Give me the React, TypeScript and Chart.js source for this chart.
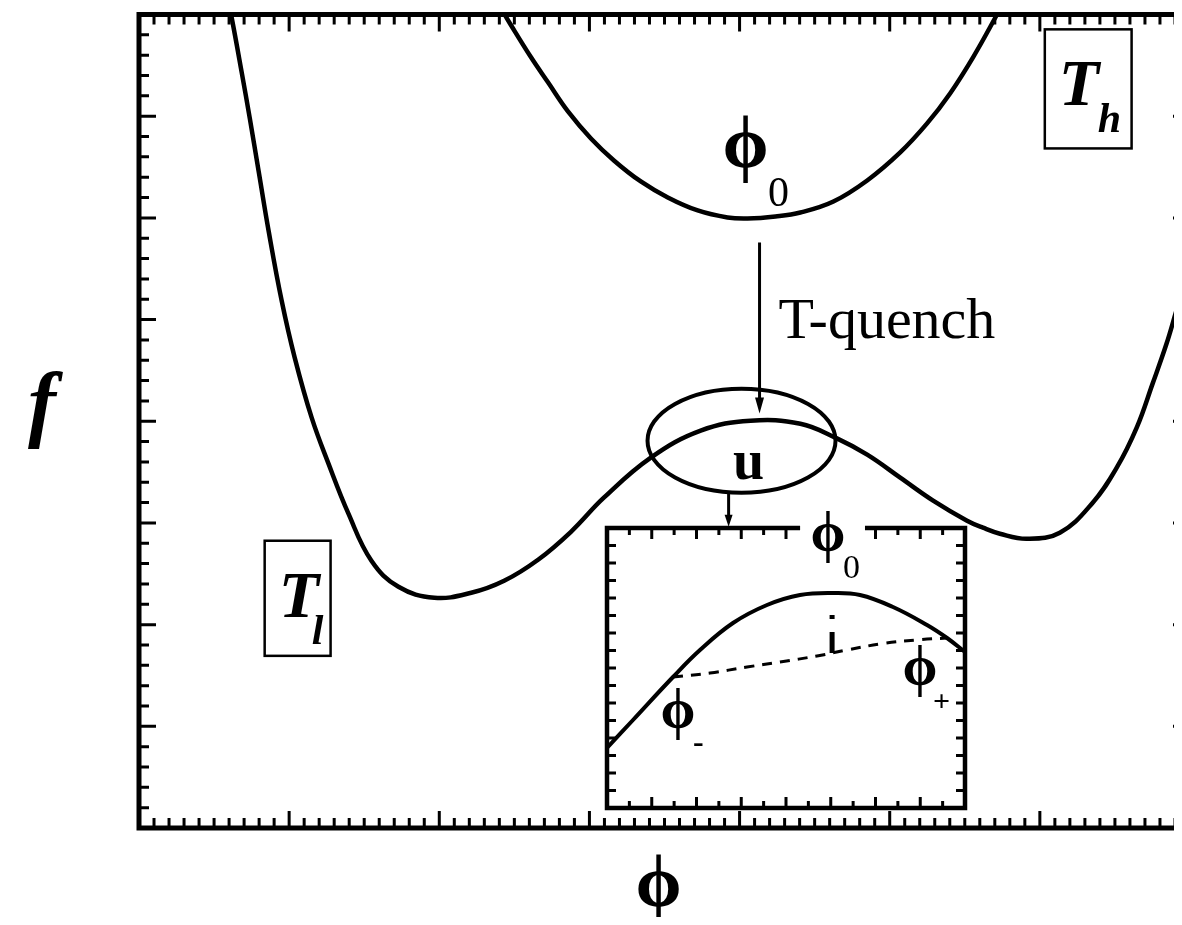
import { useEffect, useRef } from "react";
import { Chart, registerables } from "chart.js";

Chart.register(...registerables);

// ---- Free energy f(ϕ), high temperature T_h (single well around ϕ0) ----
const phiHigh = [2.419, 2.478, 2.611, 2.724, 2.857, 3.01, 3.163, 3.342, 3.522, 3.721, 3.92, 4.053, 4.239, 4.405, 4.625, 4.85, 5.07, 5.249, 5.402, 5.555, 5.701, 5.734];
const fHigh = [8.041, 7.894, 7.579, 7.333, 7.047, 6.781, 6.565, 6.358, 6.201, 6.073, 6.004, 5.994, 6.014, 6.053, 6.161, 6.368, 6.644, 6.929, 7.224, 7.579, 7.963, 8.061];

// ---- Free energy f(ϕ), low temperature T_l (double well, barrier u at ϕ0) ----
const phiLow = [0.598, 0.618, 0.684, 0.738, 0.797, 0.864, 0.95, 1.037, 1.15, 1.262, 1.395, 1.548, 1.728, 1.967, 2.213, 2.432, 2.658, 2.877, 3.096, 3.409, 3.741, 4.073, 4.405, 4.638, 4.85, 5.07, 5.289, 5.515, 5.621, 5.734, 5.914, 6.133, 6.352, 6.512, 6.645, 6.751, 6.844, 6.91, 6.997];
const fLow = [8.09, 7.963, 7.431, 6.978, 6.457, 5.866, 5.187, 4.626, 4.035, 3.583, 3.091, 2.628, 2.372, 2.264, 2.313, 2.431, 2.638, 2.913, 3.248, 3.642, 3.907, 4.006, 3.976, 3.839, 3.671, 3.445, 3.219, 3.022, 2.953, 2.894, 2.844, 2.904, 3.199, 3.543, 3.937, 4.37, 4.764, 5.089, 5.502];

// ---- Inset: magnified barrier top near ϕ0 ----
const insetPhi = [0, 1.162, 2.95, 4.156, 5.631, 7.151, 8.626, 10.101, 11.307, 12.782, 14.302, 15.196, 16.0];
const insetF = [3.43, 5.029, 7.486, 9.029, 10.571, 11.6, 12.171, 12.286, 12.171, 11.486, 10.457, 9.714, 8.914];

// chord between ϕ- and ϕ+
const chordPhi = [2.95, 4.603, 6.257, 7.732, 9.385, 10.726, 12.335, 13.989, 15.196];
const chordF = [7.486, 7.714, 8.057, 8.343, 8.686, 9.029, 9.4, 9.62, 9.714];

// vertical gap between the curve and the chord at ϕ0
const gapPhi = [10.06, 10.06];
const gapF = [11.03, 8.86];

const SERIF = '"Liberation Serif", "Times New Roman", serif';
const PHI = "\u03D5";

const pts = (xs: number[], ys: number[]) => xs.map((x, i) => ({ x, y: ys[i] }));

function arrowDown(ctx: CanvasRenderingContext2D, x: number, y0: number, y1: number, head: number, half: number) {
  ctx.beginPath();
  ctx.moveTo(x, y0);
  ctx.lineTo(x, y1 - head + 2);
  ctx.stroke();
  ctx.beginPath();
  ctx.moveTo(x, y1);
  ctx.lineTo(x - half, y1 - head);
  ctx.lineTo(x + half, y1 - head);
  ctx.closePath();
  ctx.fill();
}

const mainDecor = {
  id: "mainDecor",
  afterDatasetsDraw(chart: any) {
    const { ctx, chartArea: a, scales } = chart;
    const X = (v: number) => scales.x.getPixelForValue(v);
    const Y = (v: number) => scales.y.getPixelForValue(v);
    ctx.save();
    ctx.strokeStyle = "#000";
    ctx.fillStyle = "#000";

    // frame
    ctx.lineWidth = 5;
    ctx.strokeRect(a.left, a.top, a.right - a.left, a.bottom - a.top);

    // inward ticks: x every 0.1 (major 1), y every 0.2 (major 1)
    ctx.lineWidth = 3;
    ctx.beginPath();
    for (let i = 1; i < 70; i++) {
      const px = X(i / 10);
      const len = i % 10 === 0 ? 17 : 10;
      ctx.moveTo(px, a.bottom);
      ctx.lineTo(px, a.bottom - len);
      ctx.moveTo(px, a.top);
      ctx.lineTo(px, a.top + len);
    }
    for (let i = 1; i < 40; i++) {
      const py = Y(i / 5);
      const len = i % 5 === 0 ? 17 : 10;
      ctx.moveTo(a.left, py);
      ctx.lineTo(a.left + len, py);
      ctx.moveTo(a.right, py);
      ctx.lineTo(a.right - len, py);
    }
    ctx.stroke();

    // axis titles
    ctx.textAlign = "center";
    ctx.textBaseline = "alphabetic";
    ctx.font = `bold 74px ${SERIF}`;
    ctx.fillText(PHI, X(3.46), a.bottom + 78);
    ctx.font = `italic bold 84px ${SERIF}`;
    ctx.fillText("f", 34, Y(3.9));

    // ϕ0 at the T_h minimum
    ctx.font = `bold 74px ${SERIF}`;
    ctx.fillText(PHI, X(4.04), Y(6.5));
    ctx.textAlign = "left";
    ctx.font = `42px ${SERIF}`;
    ctx.fillText("0", X(4.19), Y(6.12));

    // temperature quench arrow
    ctx.lineWidth = 3;
    arrowDown(ctx, X(4.133), Y(5.758), Y(4.075), 16, 4.5);
    ctx.font = `58px ${SERIF}`;
    ctx.fillText("T-quench", X(4.259), Y(4.823));

    // ellipse around the barrier top u
    ctx.lineWidth = 4;
    ctx.beginPath();
    ctx.ellipse(X(4.013), Y(3.809), 94, 52, 0, 0, Math.PI * 2);
    ctx.stroke();
    ctx.textAlign = "center";
    ctx.font = `bold 56px ${SERIF}`;
    ctx.fillText("u", X(4.06), Y(3.435));

    // arrow to the magnified view
    ctx.lineWidth = 3;
    arrowDown(ctx, X(3.927), Y(3.297), Y(2.963), 12, 4);

    // temperature tags
    ctx.lineWidth = 2.5;
    const tag = (x0: number, x1: number, y0: number, y1: number, sub: string, subDx: number) => {
      const l = X(x0), r = X(x1), t = Y(y0), b = Y(y1);
      ctx.fillStyle = "#fff";
      ctx.fillRect(l, t, r - l, b - t);
      ctx.fillStyle = "#000";
      ctx.strokeRect(l, t, r - l, b - t);
      ctx.textAlign = "left";
      ctx.font = `italic bold 66px ${SERIF}`;
      ctx.fillText("T", l + (subDx > 0 ? 14 : 12), t + 76);
      ctx.font = `italic bold 42px ${SERIF}`;
      ctx.fillText(sub, l + 14 + subDx, t + 103);
    };
    tag(6.033, 6.611, 7.854, 6.683, "h", 39);
    tag(0.837, 1.276, 2.825, 1.693, "l", 33);

    ctx.restore();
  },
};

const insetDecor = {
  id: "insetDecor",
  beforeDatasetsDraw(chart: any) {
    const { ctx, chartArea: a } = chart;
    ctx.save();
    ctx.fillStyle = "#fff";
    ctx.fillRect(a.left, a.top, a.right - a.left, a.bottom - a.top);
    ctx.restore();
  },
  afterDatasetsDraw(chart: any) {
    const { ctx, chartArea: a, scales } = chart;
    const X = (v: number) => scales.x.getPixelForValue(v);
    const Y = (v: number) => scales.y.getPixelForValue(v);
    ctx.save();
    ctx.strokeStyle = "#000";
    ctx.fillStyle = "#000";

    // frame with an opening in the top edge for the ϕ0 label
    ctx.lineWidth = 4.5;
    ctx.beginPath();
    ctx.moveTo(X(8.63), a.top);
    ctx.lineTo(a.left, a.top);
    ctx.lineTo(a.left, a.bottom);
    ctx.lineTo(a.right, a.bottom);
    ctx.lineTo(a.right, a.top);
    ctx.lineTo(X(11.53), a.top);
    ctx.stroke();

    ctx.lineWidth = 3;
    ctx.beginPath();
    for (let i = 1; i < 16; i++) {
      const px = X(i);
      const len = i % 2 === 0 ? 11 : 7;
      ctx.moveTo(px, a.bottom);
      ctx.lineTo(px, a.bottom - len);
      if (i <= 8 || i >= 12) {
        ctx.moveTo(px, a.top);
        ctx.lineTo(px, a.top + len);
      }
      const py = Y(i);
      ctx.moveTo(a.left, py);
      ctx.lineTo(a.left + 9, py);
      ctx.moveTo(a.right, py);
      ctx.lineTo(a.right - 9, py);
    }
    ctx.stroke();

    ctx.textBaseline = "alphabetic";
    ctx.textAlign = "center";
    ctx.font = `bold 56px ${SERIF}`;
    ctx.fillText(PHI, X(9.88), Y(14.69));
    ctx.fillText(PHI, X(3.17), Y(4.57));
    ctx.fillText(PHI, X(13.99), Y(7.03));
    ctx.textAlign = "left";
    ctx.font = `34px ${SERIF}`;
    ctx.fillText("0", X(10.55), Y(13.14));
    ctx.font = `bold 32px ${SERIF}`;
    ctx.fillText("-", X(3.84), Y(3.2));
    ctx.font = `bold 30px ${SERIF}`;
    ctx.fillText("+", X(14.57), Y(5.54));
    ctx.restore();
  },
};

export default function App() {
  const mainRef = useRef<HTMLCanvasElement>(null);
  const insetRef = useRef<HTMLCanvasElement>(null);

  useEffect(() => {
    const line = { borderColor: "#000", borderWidth: 4.5, pointRadius: 0, showLine: true, fill: false, tension: 0.4 };

    const main = new Chart(mainRef.current!, {
      type: "scatter",
      data: {
        datasets: [
          { label: "T_h", data: pts(phiHigh, fHigh), ...line },
          { label: "T_l", data: pts(phiLow, fLow), ...line },
        ],
      },
      options: {
        animation: false,
        responsive: false,
        events: [],
        layout: { padding: { left: 131, top: 6.5, right: 18, bottom: 89 } },
        scales: {
          x: { type: "linear", min: 0, max: 7, display: false },
          y: { type: "linear", min: 0, max: 8, display: false },
        },
        plugins: { legend: { display: false }, tooltip: { enabled: false } },
      },
      plugins: [mainDecor],
    });

    const inset = new Chart(insetRef.current!, {
      type: "scatter",
      data: {
        datasets: [
          { label: "barrier", data: pts(insetPhi, insetF), ...line, borderWidth: 4 },
          { label: "chord", data: pts(chordPhi, chordF), ...line, borderWidth: 3, borderDash: [10, 8] },
          { label: "gap", data: pts(gapPhi, gapF), borderColor: "#000", borderWidth: 5, pointRadius: 0, showLine: true, tension: 0, borderDash: [4, 13, 22, 60] },
        ],
      },
      options: {
        animation: false,
        responsive: false,
        events: [],
        layout: { padding: { left: 19, top: 40, right: 23, bottom: 20 } },
        scales: {
          x: { type: "linear", min: 0, max: 16, display: false },
          y: { type: "linear", min: 0, max: 16, display: false },
        },
        plugins: { legend: { display: false }, tooltip: { enabled: false } },
      },
      plugins: [insetDecor],
    });

    return () => {
      main.destroy();
      inset.destroy();
    };
  }, []);

  return (
    <div style={{ position: "relative", width: 1174, height: 909, overflow: "hidden", background: "#fff" }}>
      <canvas ref={mainRef} width={1200} height={909} style={{ position: "absolute", left: 0, top: 0 }} />
      <canvas ref={insetRef} width={400} height={340} style={{ position: "absolute", left: 580, top: 480 }} />
    </div>
  );
}
